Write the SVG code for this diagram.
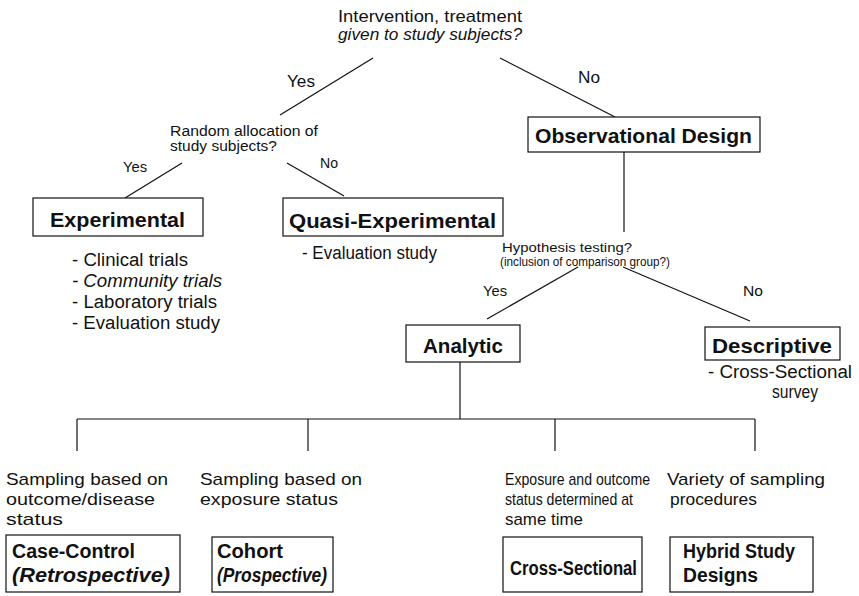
<svg xmlns="http://www.w3.org/2000/svg" width="859" height="596" viewBox="0 0 859 596">
<style>
text{font-family:"Liberation Sans",Arial,sans-serif;fill:#111;}
.q{font-size:16.5px;}
.y1{font-size:16.5px;}
.y2{font-size:15px;}
.s{font-size:14px;}
.h{font-size:13px;}
.m{font-size:18px;}
.d{font-size:17px;}
.b{font-size:21px;font-weight:bold;}
.bb{font-size:19.5px;font-weight:bold;}
.i{font-style:italic;}
.box{fill:#fff;stroke:#111;stroke-width:1.2;}
.ln{stroke:#111;stroke-width:1.2;fill:none;}
</style>
<rect width="859" height="596" fill="#fff"/>
<g id="connectors">
<line class="ln" x1="373" y1="58" x2="280" y2="115"/>
<line class="ln" x1="500" y1="58" x2="615" y2="117"/>
<line class="ln" x1="182" y1="163" x2="125" y2="198"/>
<line class="ln" x1="287" y1="163" x2="344" y2="196"/>
<line class="ln" x1="624" y1="152" x2="624" y2="232"/>
<line class="ln" x1="578" y1="267" x2="487" y2="319"/>
<line class="ln" x1="623" y1="267" x2="750" y2="321"/>
<line class="ln" x1="460" y1="362" x2="460" y2="419"/>
<line class="ln" x1="77" y1="419" x2="755" y2="419"/>
<line class="ln" x1="77" y1="419" x2="77" y2="451"/>
<line class="ln" x1="308" y1="419" x2="308" y2="451"/>
<line class="ln" x1="555" y1="419" x2="555" y2="451"/>
<line class="ln" x1="755" y1="419" x2="755" y2="451"/>
<text class="y1" x="287" y="87" textLength="28" lengthAdjust="spacingAndGlyphs">Yes</text>
<text class="y1" x="578" y="83" textLength="22" lengthAdjust="spacingAndGlyphs">No</text>
<text class="s" x="123" y="172" textLength="24" lengthAdjust="spacingAndGlyphs">Yes</text>
<text class="s" x="320" y="168" textLength="18" lengthAdjust="spacingAndGlyphs">No</text>
<text class="y2" x="483" y="296" textLength="24" lengthAdjust="spacingAndGlyphs">Yes</text>
<text class="y2" x="743" y="296" textLength="20" lengthAdjust="spacingAndGlyphs">No</text>
</g>
<g id="q-intervention">
<text class="q" x="338" y="22" textLength="184" lengthAdjust="spacingAndGlyphs">Intervention, treatment</text>
<text class="q i" x="338" y="40" textLength="184" lengthAdjust="spacingAndGlyphs">given to study subjects?</text>
</g>
<g id="q-random">
<text class="s" x="170" y="136" textLength="148" lengthAdjust="spacingAndGlyphs">Random allocation of</text>
<text class="s" x="170" y="151" textLength="107" lengthAdjust="spacingAndGlyphs">study subjects?</text>
</g>
<g id="experimental">
<rect class="box" x="33" y="198" width="170" height="38"/>
<text class="b" x="50" y="227" textLength="135" lengthAdjust="spacingAndGlyphs">Experimental</text>
<text class="m" x="72" y="266" textLength="116" lengthAdjust="spacingAndGlyphs">- Clinical trials</text>
<text class="m i" x="72" y="287" textLength="150" lengthAdjust="spacingAndGlyphs">- Community trials</text>
<text class="m" x="72" y="308" textLength="145" lengthAdjust="spacingAndGlyphs">- Laboratory trials</text>
<text class="m" x="72" y="329" textLength="148" lengthAdjust="spacingAndGlyphs">- Evaluation study</text>
</g>
<g id="quasi-experimental">
<rect class="box" x="283" y="198" width="220" height="38"/>
<text class="b" x="289" y="228" textLength="207" lengthAdjust="spacingAndGlyphs">Quasi-Experimental</text>
<text class="m" x="302" y="259" textLength="135" lengthAdjust="spacingAndGlyphs">- Evaluation study</text>
</g>
<g id="observational">
<rect class="box" x="528" y="117" width="232" height="35"/>
<text class="b" x="535" y="143" textLength="217" lengthAdjust="spacingAndGlyphs">Observational Design</text>
</g>
<g id="q-hypothesis">
<text class="h" x="502" y="252" textLength="130" lengthAdjust="spacingAndGlyphs">Hypothesis testing?</text>
<text class="h" x="500" y="266" textLength="170" lengthAdjust="spacingAndGlyphs">(inclusion of comparison group?)</text>
</g>
<g id="analytic">
<rect class="box" x="406" y="325" width="114" height="37"/>
<text class="b" x="423" y="353" textLength="80" lengthAdjust="spacingAndGlyphs">Analytic</text>
</g>
<g id="descriptive">
<rect class="box" x="705" y="327" width="135" height="33"/>
<text class="b" x="712" y="353" textLength="120" lengthAdjust="spacingAndGlyphs">Descriptive</text>
<text class="m" x="708" y="378" textLength="144" lengthAdjust="spacingAndGlyphs">- Cross-Sectional</text>
<text class="m" x="772" y="398" textLength="46" lengthAdjust="spacingAndGlyphs">survey</text>
</g>
<g id="case-control">
<text class="d" x="6" y="485" textLength="162" lengthAdjust="spacingAndGlyphs">Sampling based on</text>
<text class="d" x="6" y="505" textLength="149" lengthAdjust="spacingAndGlyphs">outcome/disease</text>
<text class="d" x="6" y="525" textLength="57" lengthAdjust="spacingAndGlyphs">status</text>
<rect class="box" x="6" y="535" width="174" height="57"/>
<text class="bb" x="12" y="558" textLength="123" lengthAdjust="spacingAndGlyphs">Case-Control</text>
<text class="bb i" x="12" y="582" textLength="158" lengthAdjust="spacingAndGlyphs">(Retrospective)</text>
</g>
<g id="cohort">
<text class="d" x="200" y="485" textLength="162" lengthAdjust="spacingAndGlyphs">Sampling based on</text>
<text class="d" x="200" y="505" textLength="138" lengthAdjust="spacingAndGlyphs">exposure status</text>
<rect class="box" x="212" y="537" width="121" height="55"/>
<text class="bb" x="217" y="558" textLength="66" lengthAdjust="spacingAndGlyphs">Cohort</text>
<text class="bb i" x="217" y="582" textLength="110" lengthAdjust="spacingAndGlyphs">(Prospective)</text>
</g>
<g id="cross-sectional">
<text class="d" x="505" y="485" textLength="145" lengthAdjust="spacingAndGlyphs">Exposure and outcome</text>
<text class="d" x="505" y="505" textLength="128" lengthAdjust="spacingAndGlyphs">status determined at</text>
<text class="d" x="505" y="525" textLength="78" lengthAdjust="spacingAndGlyphs">same time</text>
<rect class="box" x="503" y="537" width="139" height="55"/>
<text class="bb" x="510" y="575" textLength="127" lengthAdjust="spacingAndGlyphs">Cross-Sectional</text>
</g>
<g id="hybrid">
<text class="d" x="667" y="485" textLength="158" lengthAdjust="spacingAndGlyphs">Variety of  sampling</text>
<text class="d" x="670" y="505" textLength="87" lengthAdjust="spacingAndGlyphs">procedures</text>
<rect class="box" x="670" y="537" width="143" height="55"/>
<text class="bb" x="683" y="558" textLength="112" lengthAdjust="spacingAndGlyphs">Hybrid Study</text>
<text class="bb" x="683" y="582" textLength="75" lengthAdjust="spacingAndGlyphs">Designs</text>
</g>
</svg>
